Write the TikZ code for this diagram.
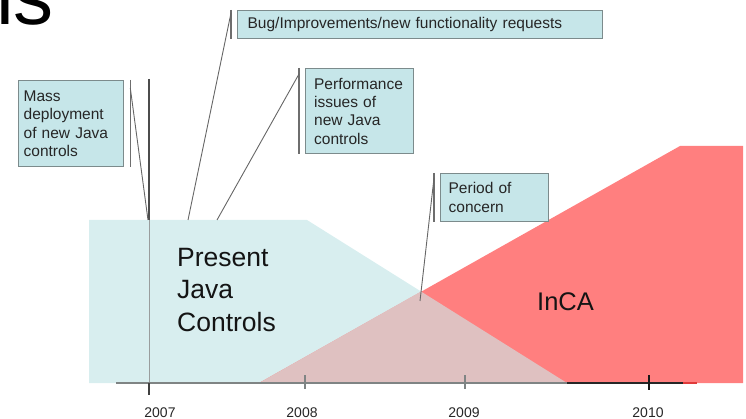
\documentclass[tikz,border=0pt]{standalone}
\usepackage{fontspec}
\setmainfont{Liberation Sans}
\definecolor{bluefill}{HTML}{D8EEEF}
\definecolor{redfill}{HTML}{FF7F7F}
\definecolor{overlapfill}{HTML}{DFC1C1}
\definecolor{callfill}{HTML}{C6E6E9}
\definecolor{callborder}{HTML}{7C8B8C}
\definecolor{bargrey}{HTML}{6E6E6E}
\definecolor{axisgrey}{HTML}{7F8484}
\definecolor{axisred}{HTML}{E03A3A}
\tikzset{
  callout/.style={draw=callborder, line width=1.3pt, fill=callfill, align=left,
    anchor=north west, inner ysep=0pt, text=black!85,
    font=\fontsize{15.5}{18.4}\selectfont},
  accent/.style={draw=bargrey, line width=1.5pt},
  pointer/.style={draw=black!60, line width=0.9pt},
  yearlabel/.style={font=\fontsize{14}{16}\selectfont, text=black!85, anchor=base, inner sep=0pt},
  bigtext/.style={inner sep=0pt, text=black!92},
  axisline/.style={line width=1.5pt},
}
\begin{document}
\begin{tikzpicture}[x=1pt, y=-1pt]
\useasboundingbox (0,0) rectangle (746,419);
% regions
\fill[bluefill] (89,220) -- (307,220) -- (567,383) -- (89,383) -- cycle;
\fill[redfill] (259,383) -- (680,146) -- (743,146) -- (743,383) -- cycle;
\fill[overlapfill] (259,383) -- (421,291.5) -- (567,383) -- cycle;
% 2007 vertical marker
\coordinate (vtop) at (149,79);
\coordinate (vmid) at (149,220);
\coordinate (vbot) at (149,383);
\draw[draw=black!70, line width=1.5pt] (vtop) -- (vmid);
\draw[draw=axisgrey!80, line width=1pt] (vmid) -- (vbot);
% axis
\coordinate (axL) at (116,383);
\coordinate (axM) at (567,383);
\coordinate (axR) at (683,383);
\coordinate (axE) at (697,383);
\draw[axisline, draw=axisgrey] (axL) -- (axM);
\draw[axisline, draw=black!85] (axM) -- (axR);
\draw[axisline, draw=axisred] (axR) -- (axE);
% ticks
\coordinate (t7a) at (149,383); \coordinate (t7b) at (149,395);
\coordinate (t8a) at (305,375); \coordinate (t8b) at (305,389);
\coordinate (t9a) at (465,375); \coordinate (t9b) at (465,389);
\coordinate (t10a) at (649,375); \coordinate (t10b) at (649,390);
\draw[axisline, draw=black!75] (t7a) -- (t7b);
\draw[axisline, draw=axisgrey] (t8a) -- (t8b);
\draw[axisline, draw=axisgrey] (t9a) -- (t9b);
\draw[axisline, draw=black!90] (t10a) -- (t10b);
% year labels
\node[yearlabel] (y2007) at (160,417) {2007};
\node[yearlabel] (y2008) at (302,417) {2008};
\node[yearlabel] (y2009) at (464,417) {2009};
\node[yearlabel] (y2010) at (648,417) {2010};
% big labels
\node[bigtext, anchor=north west, align=left, font=\fontsize{26.5}{32.5}\selectfont] (present) at (177,248) {Present\\Java\\Controls};
\node[bigtext, anchor=base west, font=\fontsize{25.5}{30}\selectfont] (inca) at (537,310) {InCA};
\node[bigtext, anchor=base west, text=black, font=\fontsize{80}{90}\selectfont] (title) at (-4,24.5) {is};
% callouts
\node[callout, inner xsep=5pt, text width=95pt, minimum height=86pt] (mass) at (18,80) {Mass\\deployment\\of new Java\\controls};
\node[callout, inner xsep=10pt, text width=345pt, minimum height=28pt] (bug) at (237,10) {Bug/Improvements/new functionality requests};
\node[callout, inner xsep=8.5pt, text width=91pt, minimum height=85pt] (perf) at (305,68) {Performance\\issues of\\new Java\\controls};
\node[callout, inner xsep=8pt, text width=92pt, minimum height=48pt] (period) at (440,173) {Period of\\concern};
% accent bars
\draw[accent] ([xshift=6pt]mass.north east) -- ([xshift=6pt]mass.south east);
\draw[accent] ([xshift=-6pt]bug.north west) -- ([xshift=-6pt]bug.south west);
\draw[accent] ([xshift=-6pt]perf.north west) -- ([xshift=-6pt]perf.south west);
\draw[accent] ([xshift=-6pt]period.north west) -- ([xshift=-6pt]period.south west);
% pointers
\coordinate (massTip) at (148,220);
\coordinate (bugTip) at (188,220);
\coordinate (perfTip) at (217,220);
\coordinate (periodTip) at (420,301);
\draw[pointer] ([xshift=6pt,yshift=-8pt]mass.north east) -- (massTip);
\draw[pointer] ([xshift=-6pt,yshift=-3pt]bug.north west) -- (bugTip);
\draw[pointer] ([xshift=-6pt,yshift=-6pt]perf.north west) -- (perfTip);
\draw[pointer] ([xshift=-6pt,yshift=-5pt]period.north west) -- (periodTip);
\end{tikzpicture}
\end{document}
